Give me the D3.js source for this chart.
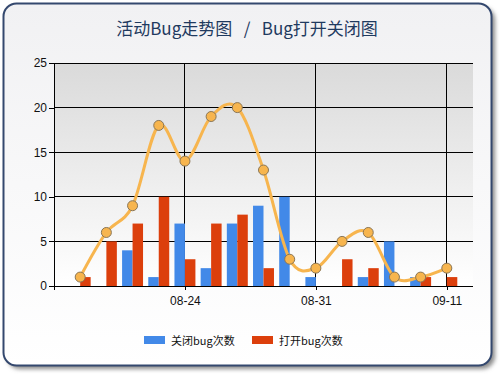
<!DOCTYPE html>
<html>
<head>
<meta charset="utf-8">
<script src="https://cdn.jsdelivr.net/npm/d3@7"></script>
<style>
  body { margin: 0; background: #fff; }
  svg { display: block; }
</style>
</head>
<body>
<div id="chart"></div>
<script>
// data
var closedBugs = [0, 0, 4, 1, 7, 2, 7, 9, 10, 1, 0, 1, 5, 1, 0];
var openedBugs = [1, 5, 7, 10, 3, 7, 8, 2, 0, 0, 3, 2, 0, 1, 1];
var activeBugs = [1, 6, 9, 18, 14, 19, 20, 13, 3, 2, 5, 6, 1, 1, 2];
var tickPos = [5, 10, 15];
var tickLabels = ["08-24", "08-31", "09-11"];
var seriesNames = ["关闭bug次数", "打开bug次数"];
var seriesColors = ["#4289e8", "#dc3f0c"];

var width = 500, height = 375;
var margin = { top: 63, right: 27, bottom: 89, left: 54 };
var chartWidth = width - margin.left - margin.right;
var chartHeight = height - margin.top - margin.bottom;

var svg = d3.select("#chart").append("svg")
    .attr("width", width)
    .attr("height", height);

var defs = svg.append("defs");

var bgGrad = defs.append("linearGradient")
    .attr("id", "bgGrad").attr("x1", 0).attr("y1", 0).attr("x2", 0).attr("y2", 1);
bgGrad.append("stop").attr("offset", "0%").attr("stop-color", "#f1f1f3");
bgGrad.append("stop").attr("offset", "100%").attr("stop-color", "#ffffff");

var plotGrad = defs.append("linearGradient")
    .attr("id", "plotGrad").attr("x1", 0).attr("y1", 0).attr("x2", 0).attr("y2", 1);
plotGrad.append("stop").attr("offset", "0%").attr("stop-color", "#dadada");
plotGrad.append("stop").attr("offset", "100%").attr("stop-color", "#ffffff");

var blur = defs.append("filter").attr("id", "shadow")
    .attr("x", "-5%").attr("y", "-5%").attr("width", "115%").attr("height", "115%");
blur.append("feGaussianBlur").attr("stdDeviation", 2);

// frame with shadow
svg.append("rect")
    .attr("x", 7).attr("y", 7).attr("width", 488).attr("height", 362)
    .attr("rx", 13).attr("fill", "#8a8a8a").attr("filter", "url(#shadow)");
svg.append("rect")
    .attr("x", 3.5).attr("y", 3.5).attr("width", 488).attr("height", 362)
    .attr("rx", 13)
    .attr("fill", "url(#bgGrad)")
    .attr("stroke", "#34486e")
    .attr("stroke-width", 2);

// title
svg.append("text")
    .attr("x", 247).attr("y", 35)
    .attr("text-anchor", "middle")
    .attr("font-family", "'Noto Sans CJK SC', sans-serif")
    .attr("font-size", 17)
    .attr("fill", "#1f3a5f")
    .style("white-space", "pre")
    .text("活动Bug走势图   /   Bug打开关闭图");

var x = d3.scaleLinear().domain([0, 16]).range([0, chartWidth]);
var y = d3.scaleLinear().domain([0, 25]).range([chartHeight, 0]);
var barW = (x(1) - x(0)) * 0.4;

var g = svg.append("g")
    .attr("transform", `translate(${margin.left}, ${margin.top})`);

g.append("rect")
    .attr("width", chartWidth).attr("height", chartHeight)
    .attr("fill", "url(#plotGrad)");

// grid lines
g.selectAll(".hgrid")
    .data(y.ticks(5))
    .enter().append("line")
    .attr("x1", 0).attr("x2", chartWidth)
    .attr("y1", d => y(d)).attr("y2", d => y(d))
    .attr("stroke", "#000").attr("stroke-width", 1)
    .attr("shape-rendering", "crispEdges");

g.selectAll(".vgrid")
    .data(tickPos)
    .enter().append("line")
    .attr("x1", d => x(d)).attr("x2", d => x(d))
    .attr("y1", 0).attr("y2", chartHeight)
    .attr("stroke", "#000").attr("stroke-width", 1)
    .attr("shape-rendering", "crispEdges");

// bars
g.selectAll(".closed")
    .data(closedBugs)
    .enter().append("rect")
    .attr("x", (d, i) => x(i + 1) - barW)
    .attr("y", d => y(d))
    .attr("width", barW)
    .attr("height", d => chartHeight - y(d))
    .attr("fill", seriesColors[0]);

g.selectAll(".opened")
    .data(openedBugs)
    .enter().append("rect")
    .attr("x", (d, i) => x(i + 1))
    .attr("y", d => y(d))
    .attr("width", barW)
    .attr("height", d => chartHeight - y(d))
    .attr("fill", seriesColors[1]);

// axes
var yAxis = g.append("g")
    .call(d3.axisLeft(y).tickValues(y.ticks(5)).tickSize(5).tickPadding(2));
var xAxis = g.append("g")
    .attr("transform", `translate(0, ${chartHeight})`)
    .call(d3.axisBottom(x).tickValues([0].concat(tickPos)).tickSize(4).tickPadding(6)
        .tickFormat(d => d === 0 ? "" : tickLabels[tickPos.indexOf(d)]));

[yAxis, xAxis].forEach(function(ax) {
  ax.select(".domain").remove();
  ax.selectAll("line").attr("stroke", "#000").attr("shape-rendering", "crispEdges");
  ax.selectAll("text")
    .attr("font-family", "'Liberation Sans', Arial, sans-serif")
    .attr("font-size", 12)
    .attr("fill", "#111");
});

g.append("line")
    .attr("x1", 0).attr("x2", 0).attr("y1", 0).attr("y2", chartHeight + 4)
    .attr("stroke", "#000").attr("shape-rendering", "crispEdges");
g.append("line")
    .attr("x1", 0).attr("x2", chartWidth).attr("y1", chartHeight).attr("y2", chartHeight)
    .attr("stroke", "#000").attr("shape-rendering", "crispEdges");

// spline
var line = d3.line()
    .x((d, i) => x(i + 1))
    .y(d => y(d))
    .curve(d3.curveCardinal.tension(0));

g.append("path")
    .datum(activeBugs)
    .attr("d", line)
    .attr("fill", "none")
    .attr("stroke", "#f7b54e")
    .attr("stroke-width", 3);

g.selectAll(".dot")
    .data(activeBugs)
    .enter().append("circle")
    .attr("cx", (d, i) => x(i + 1))
    .attr("cy", d => y(d))
    .attr("r", 5)
    .attr("fill", "#f7b54e")
    .attr("stroke", "#8a7656")
    .attr("stroke-width", 1);

// legend
var legend = svg.append("g").attr("transform", "translate(144, 336)");
var item = legend.selectAll(".item")
    .data(seriesNames)
    .enter().append("g")
    .attr("transform", (d, i) => `translate(${i * 108}, 0)`);
item.append("rect")
    .attr("width", 21).attr("height", 8)
    .attr("fill", (d, i) => seriesColors[i]);
item.append("text")
    .attr("x", 27).attr("y", 8.5)
    .attr("font-family", "'Noto Sans CJK SC', sans-serif")
    .attr("font-size", 11)
    .attr("fill", "#111")
    .text(d => d);
</script>
</body>
</html>
